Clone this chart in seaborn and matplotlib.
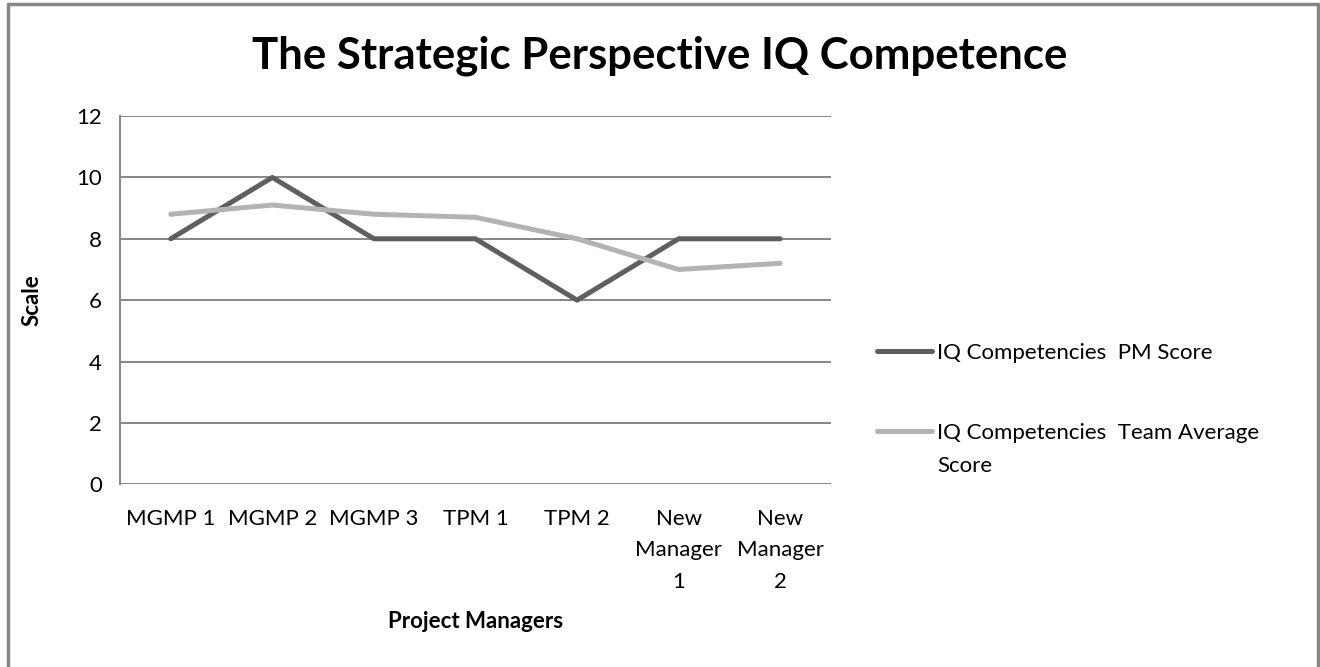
import matplotlib

matplotlib.use("Agg")

import matplotlib.pyplot as plt
import pandas as pd
import seaborn as sns
from matplotlib.lines import Line2D

# chart data
categories = ["MGMP 1", "MGMP 2", "MGMP 3", "TPM 1", "TPM 2",
              "New\nManager\n1", "New\nManager\n2"]
pm_score = [8, 10, 8, 8, 6, 8, 8]
team_average = [8.8, 9.1, 8.8, 8.7, 8.0, 7.0, 7.2]
series_names = ["IQ Competencies  PM Score", "IQ Competencies  Team Average Score"]
y_ticks = [0, 2, 4, 6, 8, 10, 12]

title = "The Strategic Perspective IQ Competence"
x_label = "Project Managers"
y_label = "Scale"

frame = pd.DataFrame({
    "category": categories * 2,
    "value": pm_score + team_average,
    "series": [series_names[0]] * len(categories) + [series_names[1]] * len(categories),
})
frame["category"] = pd.Categorical(frame["category"], categories=categories, ordered=True)

sns.set_theme(style="white")
plt.rcParams["font.family"] = ["Lato", "DejaVu Sans"]
plt.rcParams["text.color"] = "black"
plt.rcParams["axes.labelcolor"] = "black"

fig = plt.figure(figsize=(13.2, 6.67), dpi=100)
ax = fig.add_axes([0.0909, 0.274, 0.5386, 0.552])

sns.lineplot(
    data=frame,
    x="category",
    y="value",
    hue="series",
    palette=["#5f5f5f", "#b3b3b3"],
    linewidth=3.6,
    sort=False,
    ax=ax,
)

ax.set_xlim(-0.5, len(categories) - 0.5)
ax.set_ylim(0, 12)
ax.set_yticks(y_ticks)
ax.set_yticklabels([str(v) for v in y_ticks])
ax.set_xticks(range(len(categories)))
ax.set_xticklabels(categories, linespacing=1.7)
ax.tick_params(axis="both", length=0, labelsize=16, colors="black")
ax.tick_params(axis="x", pad=18)
ax.tick_params(axis="y", pad=13)
ax.yaxis.grid(True, color="#868686", linewidth=1.4)
ax.set_axisbelow(True)
for side in ("top", "right", "bottom"):
    ax.spines[side].set_visible(False)
ax.spines["left"].set_color("#868686")
ax.spines["left"].set_linewidth(1.4)

# axis titles, placed where the reference puts them
ax.set_xlabel(x_label, fontsize=16, fontweight="bold")
ax.xaxis.set_label_coords(0.5, -(621 - 484) / 368)
ax.set_ylabel(y_label, fontsize=16, fontweight="bold")
ax.yaxis.set_label_coords(-88 / 711, 0.5)
ax.xaxis.label.set_va("center")
ax.yaxis.label.set_va("center")

handles, labels = ax.get_legend_handles_labels()
legend_labels = [series_names[0], series_names[1].rsplit(" ", 1)[0]]
leg = ax.legend(
    handles,
    legend_labels,
    loc="upper left",
    bbox_to_anchor=(1.052, 0.409),
    frameon=False,
    fontsize=16,
    handlelength=2.5,
    handletextpad=0.2,
    labelspacing=2.7,
    borderaxespad=0,
)
for line in leg.get_lines():
    line.set_linewidth(3.6)

fig.text(0.5, 1 - 56 / 667, title, ha="center", va="center",
         fontsize=31.5, fontweight="bold")

# wrapped remainder of the second legend label
fig.canvas.draw()
renderer = fig.canvas.get_renderer()
tb = leg.get_texts()[1].get_window_extent(renderer)
fig.text(tb.x0 / fig.bbox.width, (tb.y0 - 13) / fig.bbox.height,
         series_names[1].rsplit(" ", 1)[1], ha="left", va="top", fontsize=16)

# outer chart border (no bottom edge in the reference)
border = dict(color="#868686", linewidth=2.5, transform=fig.transFigure)
fig.add_artist(Line2D([0.006, 0.006], [0, 0.994], **border))
fig.add_artist(Line2D([0.9985, 0.9985], [0, 0.994], **border))
fig.add_artist(Line2D([0.006, 0.9985], [0.994, 0.994], **border))

fig.savefig("out.png", dpi=100)
